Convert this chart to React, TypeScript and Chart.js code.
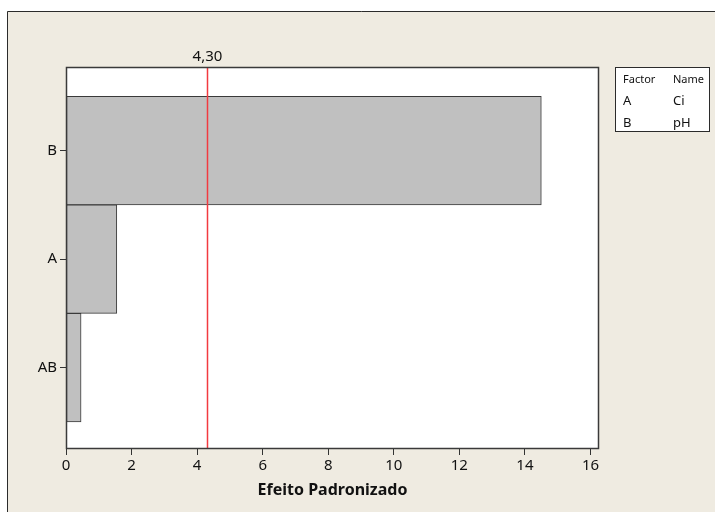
import React, { useEffect, useRef } from 'react';
import { Chart, registerables } from 'chart.js';

Chart.register(...registerables);

// ---- data ----
const terms = ['B', 'A', 'AB'];
const effects = [14.5, 1.55, 0.46];
const thresholdValue = 4.3;
const thresholdLabel = '4,30';
const xTickStep = 2;
const xMin = 0;
const xMax = 16.26;
const yMin = -0.75;
const yMax = 2.77;
const xTitle = 'Efeito Padronizado';
const legendHeader = ['Factor', 'Name'];
const factorCodes = ['A', 'B'];
const factorNames = ['Ci', 'pH'];

const FONT = '"Noto Sans", "DejaVu Sans", sans-serif';
const positions = terms.map((_, i) => terms.length - 1 - i);

const decor = {
  id: 'decor',
  beforeDraw(chart: any) {
    const { ctx, width, height, chartArea: a } = chart;
    ctx.save();
    ctx.fillStyle = '#ffffff';
    ctx.fillRect(0, 0, width, height);
    ctx.fillStyle = '#EFEBE1';
    ctx.fillRect(7, 11, width - 7, height - 11);
    ctx.strokeStyle = '#2b2b2b';
    ctx.lineWidth = 1;
    ctx.beginPath();
    ctx.moveTo(7.5, height);
    ctx.lineTo(7.5, 11.5);
    ctx.lineTo(width, 11.5);
    ctx.stroke();
    ctx.fillStyle = '#ffffff';
    ctx.fillRect(a.left, a.top, a.right - a.left, a.bottom - a.top);
    ctx.restore();
  },
  afterDatasetsDraw(chart: any) {
    const { ctx, chartArea: a, scales } = chart;
    const x = Math.round(scales.x.getPixelForValue(thresholdValue)) + 0.5;
    ctx.save();
    ctx.strokeStyle = '#F23A40';
    ctx.lineWidth = 1.5;
    ctx.beginPath();
    ctx.moveTo(x, a.top);
    ctx.lineTo(x, a.bottom);
    ctx.stroke();
    ctx.fillStyle = '#111';
    ctx.font = `15px ${FONT}`;
    ctx.textAlign = 'center';
    ctx.textBaseline = 'middle';
    ctx.fillText(thresholdLabel, x, a.top - 10);
    // plot frame
    ctx.strokeStyle = '#3a3a3a';
    ctx.lineWidth = 1.5;
    ctx.strokeRect(a.left + 0.5, a.top + 0.5, a.right - a.left - 1, a.bottom - a.top - 1);
    ctx.restore();
  },
  afterDraw(chart: any) {
    const { ctx } = chart;
    const bx = 615, by = 67, bw = 94, bh = 64;
    ctx.save();
    ctx.fillStyle = '#ffffff';
    ctx.fillRect(bx, by, bw, bh);
    ctx.strokeStyle = '#2b2b2b';
    ctx.lineWidth = 1;
    ctx.strokeRect(bx + 0.5, by + 0.5, bw, bh);
    ctx.fillStyle = '#111';
    ctx.textAlign = 'left';
    ctx.textBaseline = 'middle';
    ctx.font = `11px ${FONT}`;
    ctx.fillText(legendHeader[0], 623, 80);
    ctx.fillText(legendHeader[1], 673, 80);
    ctx.font = `13px ${FONT}`;
    factorCodes.forEach((c, i) => {
      const y = 101 + i * 22;
      ctx.fillText(c, 623, y);
      ctx.fillText(factorNames[i], 673, y);
    });
    ctx.restore();
  },
};

export default function App() {
  const ref = useRef<HTMLCanvasElement | null>(null);
  useEffect(() => {
    if (!ref.current) return;
    const chart = new Chart(ref.current, {
      type: 'bar',
      data: {
        datasets: [
          {
            data: effects.map((v, i) => ({ x: v, y: positions[i] })) as any,
            backgroundColor: '#C0C0C0',
            borderColor: '#3a3a3a',
            borderWidth: 1,
            borderSkipped: false,
            barPercentage: 1,
            categoryPercentage: 1,
          },
        ],
      },
      options: {
        indexAxis: 'y',
        responsive: false,
        animation: false,
        devicePixelRatio: 1,
        layout: { padding: { left: 0, top: 67, right: 116, bottom: 0 } },
        plugins: { legend: { display: false }, tooltip: { enabled: false } },
        scales: {
          x: {
            type: 'linear',
            min: xMin,
            max: xMax,
            offset: false,
            ticks: {
              stepSize: xTickStep,
              includeBounds: false,
              color: '#111',
              font: { family: FONT, size: 15 },
              padding: 2,
              maxRotation: 0,
            },
            grid: { offset: false, drawOnChartArea: false, drawTicks: true, tickLength: 6, color: '#333', tickWidth: 1 },
            border: { display: false },
            title: {
              display: true,
              text: xTitle,
              color: '#111',
              font: { family: FONT, size: 16, weight: 'bold' },
              padding: { top: 0, bottom: 12 },
            },
            afterFit(scale: any) {
              scale.height = 63;
            },
          },
          y: {
            type: 'linear',
            min: yMin,
            max: yMax,
            offset: false,
            afterBuildTicks(scale: any) {
              scale.ticks = positions.map((p) => ({ value: p }));
            },
            ticks: {
              color: '#111',
              font: { family: FONT, size: 15 },
              padding: 3,
              callback: (v: any) => {
                const idx = positions.indexOf(Number(v));
                return idx >= 0 ? terms[idx] : '';
              },
            },
            grid: { offset: false, drawOnChartArea: false, drawTicks: true, tickLength: 6, color: '#333', tickWidth: 1 },
            border: { display: false },
            afterFit(scale: any) {
              scale.width = 66;
            },
          },
        },
      },
      plugins: [decor],
    } as any);
    return () => chart.destroy();
  }, []);
  return (
    <div style={{ position: 'fixed', left: 0, top: 0, width: 715, height: 512 }}>
      <canvas ref={ref} width={715} height={512} style={{ width: 715, height: 512, display: 'block' }} />
    </div>
  );
}
